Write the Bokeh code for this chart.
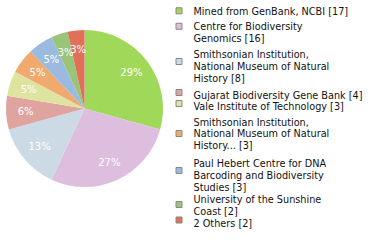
import math
from bokeh.plotting import figure
from bokeh.models import Range1d, ColumnDataSource
from bokeh.embed import file_html
from bokeh.resources import INLINE
from bokeh.core.properties import value

# ---- data ----
labels = [
    "Mined from GenBank, NCBI",
    "Centre for Biodiversity\nGenomics",
    "Smithsonian Institution,\nNational Museum of Natural\nHistory",
    "Gujarat Biodiversity Gene Bank",
    "Vale Institute of Technology",
    "Smithsonian Institution,\nNational Museum of Natural\nHistory...",
    "Paul Hebert Centre for DNA\nBarcoding and Biodiversity\nStudies",
    "University of the Sunshine\nCoast",
    "2 Others",
]
counts = [17, 16, 8, 4, 3, 3, 3, 2, 2]
colors = ["#a0d85a", "#debede", "#ccdae6", "#e0a4a0", "#dee4a0",
          "#f0aa6e", "#9abae0", "#9ac478", "#e0705a"]

# ---- layout (screen px, y down) ----
W, H = 380, 240
CX, CY, R = 84, 108, 78.5
LABEL_R = 59
first_baselines = [11, 26, 54, 95, 106, 121.5, 163, 199, 222.5]
square_centers = [10.3, 25.8, 61, 92, 103, 133, 170, 204, 219.5]
PITCH = 11.8
FONT = value("DejaVu Sans")

p = figure(width=W, height=H, x_range=Range1d(0, W), y_range=Range1d(0, H),
           output_backend="svg", toolbar_location=None,
           x_axis_location=None, y_axis_location=None, min_border=0)
p.outline_line_color = None
p.grid.visible = False
p.background_fill_color = "white"
p.border_fill_color = "white"

total = sum(counts)
starts, ends, lx, ly, ltxt = [], [], [], [], []
cum = 0
for c in counts:
    a0 = math.pi / 2 - 2 * math.pi * cum / total
    a1 = math.pi / 2 - 2 * math.pi * (cum + c) / total
    mid = (a0 + a1) / 2
    starts.append(a0)
    ends.append(a1)
    lx.append(CX + LABEL_R * math.cos(mid))
    ly.append(H - CY + LABEL_R * math.sin(mid))
    ltxt.append(f"{int(100 * c / total)}%")
    cum += c

src = ColumnDataSource(dict(start=starts, end=ends, color=colors))
p.wedge(x=CX, y=H - CY, radius=R, start_angle="start", end_angle="end",
        direction="clock", fill_color="color", line_color=None, source=src)

p.text(x=lx, y=ly, text=ltxt, text_color="white", text_font=FONT,
       text_font_size="10px", text_align="center", text_baseline="middle")

# legend
p.rect(x=[178.5] * len(counts), y=[H - s for s in square_centers], width=6, height=6,
       fill_color=colors, line_color="#888888", line_width=1)

tx, ty, tt = [], [], []
for lab, c, b in zip(labels, counts, first_baselines):
    lines = lab.split("\n")
    lines[-1] = f"{lines[-1]} [{c}]"
    for i, ln in enumerate(lines):
        tx.append(193)
        ty.append(H - (b + i * PITCH))
        tt.append(ln)
p.text(x=tx, y=ty, text=tt, text_color="#111111", text_font=FONT,
       text_font_size="9.7px", text_align="left", text_baseline="alphabetic")

open("out.html", "w").write(file_html(p, INLINE))
